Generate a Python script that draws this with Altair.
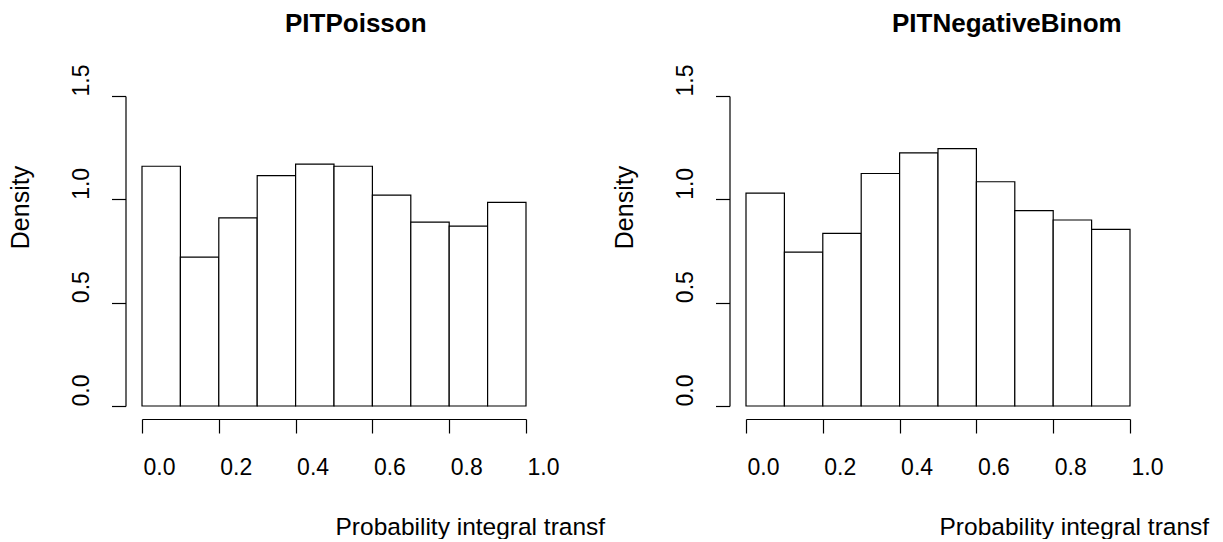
import altair as alt
import pandas as pd

bin_start = [0.0, 0.1, 0.2, 0.3, 0.4, 0.5, 0.6, 0.7, 0.8, 0.9]
bin_end = [0.1, 0.2, 0.3, 0.4, 0.5, 0.6, 0.7, 0.8, 0.9, 1.0]
pit_poisson = [1.16, 0.72, 0.91, 1.115, 1.17, 1.16, 1.02, 0.89, 0.87, 0.985]
pit_negbin = [1.03, 0.745, 0.835, 1.125, 1.225, 1.245, 1.085, 0.945, 0.90, 0.855]
x_ticks = [0.0, 0.2, 0.4, 0.6, 0.8, 1.0]
y_ticks = [0.0, 0.5, 1.0, 1.5]
titles = ["PITPoisson", "PITNegativeBinom"]
x_label = "Probability integral transf"
y_label = "Density"

FONT = "Liberation Sans"


def panel(values, title, title_dx):
    df = pd.DataFrame({"start": bin_start, "end": bin_end, "density": values})
    return (
        alt.Chart(
            df,
            title=alt.TitleParams(
                text=title,
                anchor="start",
                frame="group",
                dx=title_dx,
                offset=6,
                baseline="alphabetic",
                font=FONT,
                fontSize=26,
                fontWeight="bold",
                color="black",
            ),
        )
        .mark_bar(fill="white", stroke="black", strokeWidth=1.2)
        .encode(
            x=alt.X(
                "start:Q",
                scale=alt.Scale(domain=[0, 1], nice=False, zero=False),
                axis=alt.Axis(
                    values=x_ticks,
                    format=".1f",
                    offset=13,
                    tickSize=14,
                    tickColor="black",
                    tickWidth=1.2,
                    domainColor="black",
                    domainWidth=1.2,
                    grid=False,
                    labelFont=FONT,
                    labelFontSize=23,
                    labelColor="black",
                    labelBaseline="alphabetic",
                    labelPadding=41,
                    labelOffset=17,
                    labelFlush=False,
                    labelOverlap=False,
                    title=x_label,
                    titleFont=FONT,
                    titleFontSize=24.5,
                    titleFontWeight="normal",
                    titleColor="black",
                    titleAlign="left",
                    titleBaseline="alphabetic",
                    titleAnchor="start",
                    titleX=193,
                    titleY=115,
                ),
            ),
            x2="end:Q",
            y=alt.Y(
                "density:Q",
                scale=alt.Scale(domain=[0, 1.5], nice=False),
                axis=alt.Axis(
                    values=y_ticks,
                    format=".1f",
                    offset=16.5,
                    tickSize=14,
                    tickColor="black",
                    tickWidth=1.2,
                    domainColor="black",
                    domainWidth=1.2,
                    grid=False,
                    labelFont=FONT,
                    labelFontSize=23,
                    labelColor="black",
                    labelAngle=270,
                    labelAlign="center",
                    labelBaseline="alphabetic",
                    labelPadding=23,
                    labelOffset=-16,
                    labelFlush=False,
                    labelOverlap=False,
                    title=y_label,
                    titleFont=FONT,
                    titleFontSize=25,
                    titleFontWeight="normal",
                    titleColor="black",
                    titleAngle=270,
                    titleAlign="center",
                    titleBaseline="alphabetic",
                    titleX=-97,
                    titleY=111,
                ),
            ),
            y2=alt.datum(0),
        )
        .properties(width=384, height=310)
    )


left = panel(pit_poisson, titles[0], 143)
right = panel(pit_negbin, titles[1], 146)

chart = (
    alt.hconcat(left, right, spacing=220, bounds="flush")
    .properties(padding={"left": 8, "top": 10, "right": 0, "bottom": 0}, background="white")
    .configure_view(stroke="transparent")
)

chart.save("out.html", embed_options={"renderer": "svg", "actions": False})
